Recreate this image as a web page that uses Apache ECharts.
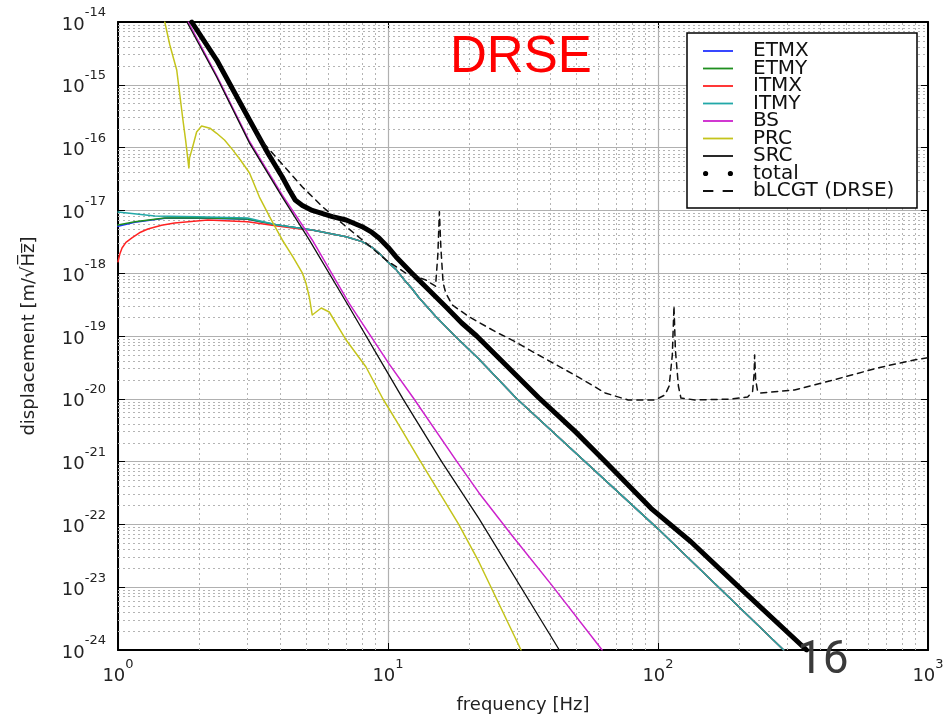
<!DOCTYPE html>
<html>
<head>
<meta charset="utf-8">
<script src="https://cdn.jsdelivr.net/npm/echarts@6/dist/echarts.min.js"></script>
<style>
  html, body { margin: 0; padding: 0; background: #fff; }
  #chart { width: 951px; height: 717px; }
</style>
</head>
<body>
<div id="chart"></div>
<script>
// values: [frequency Hz, displacement m/rtHz]
var etmxData = [[1, 5.6e-18], [1.155, 6.5e-18], [1.49, 7.5e-18], [1.97, 7.6e-18], [3.02, 7.25e-18], [3.89, 5.85e-18]];
var etmyData = [[1, 5.85e-18], [1.155, 6.61e-18], [1.49, 7.57e-18], [1.97, 7.66e-18], [3.02, 7.29e-18], [3.89, 5.85e-18]];
var itmxData = [[1, 1.52e-18], [1.015, 2.0e-18], [1.035, 2.52e-18], [1.07, 3.1e-18], [1.126, 3.64e-18],
  [1.2, 4.4e-18], [1.29, 5.06e-18], [1.45, 5.8e-18], [1.62, 6.3e-18], [2.15, 7.03e-18], [3.02, 6.61e-18],
  [3.89, 5.65e-18], [4.82, 5.0e-18]];
var itmyData = [[1, 9.44e-18], [1.37, 8.15e-18], [1.97, 7.94e-18], [3.02, 7.57e-18], [3.89, 5.85e-18]];
// all four test masses coincide above ~5 Hz
var massTail = [[5.24, 4.88e-18], [7.0, 3.81e-18], [8.02, 3.18e-18], [8.7, 2.6e-18], [9.26, 2.1e-18],
  [10.0, 1.5e-18], [10.7, 1.15e-18], [11.5, 7.8e-19], [12.26, 5.7e-19], [13.0, 4.1e-19], [15.0, 2.06e-19],
  [17.7, 1.0e-19], [21.7, 4.3e-20], [30, 1.0e-20], [100, 8.5e-23], [292, 1.0e-24]];
var bsData = [[1.82, 1.0e-14], [2.32, 1.4e-15], [3.07, 1.25e-16], [4.06, 1.75e-17], [5.24, 3.38e-18],
  [7.18, 3.3e-19], [10.09, 3.6e-20], [12.47, 1.0e-20], [18.0, 1.0e-21], [21.7, 3.2e-22], [28.7, 6.8e-23],
  [40, 1.14e-23], [62.1, 1.0e-24]];
var prcData = [[1.49, 1.0e-14], [1.556, 4.3e-15], [1.65, 1.72e-15], [1.74, 2.75e-16], [1.78, 1.32e-16],
  [1.83, 4.73e-17], [1.84, 6.8e-17], [1.89, 1.02e-16], [1.955, 1.77e-16], [2.04, 2.21e-16], [2.19, 2.04e-16],
  [2.32, 1.69e-16], [2.48, 1.32e-16], [2.66, 9.2e-17], [2.84, 6.35e-17], [3.07, 3.94e-17], [3.34, 1.63e-17],
  [3.7, 7.0e-18], [4.06, 3.38e-18], [4.45, 1.8e-18], [4.82, 1.0e-18], [4.97, 6.9e-19], [5.11, 4.18e-19],
  [5.24, 2.16e-19], [5.66, 2.79e-19], [6.06, 2.41e-19], [7.0, 8.63e-20], [8.29, 3.21e-20], [9.58, 9.93e-21],
  [10.7, 4.59e-21], [13.2, 1.0e-21], [18.28, 1.0e-22], [21.67, 2.57e-23], [31.1, 1.0e-24]];
var srcData = [[1.80, 1.0e-14], [2.32, 1.33e-15], [3.07, 1.18e-16], [4.06, 1.63e-17], [5.11, 3.4e-18],
  [7.18, 2.9e-19], [9.5, 3.7e-20], [11.36, 1.0e-20], [15.8, 1.0e-21], [21.7, 1.25e-22], [43.1, 1.0e-24]];
var totalData = [[1.875, 1.0e-14], [2.32, 2.48e-15], [3.07, 2.75e-16], [3.6, 8.0e-17], [4.06, 3.4e-17],
  [4.31, 2.11e-17], [4.53, 1.47e-17], [4.82, 1.2e-17], [5.24, 1.0e-17], [6.22, 7.98e-18], [7.0, 7.03e-18],
  [8.02, 5.5e-18], [8.7, 4.5e-18], [9.26, 3.64e-18], [10.0, 2.6e-18], [10.7, 1.83e-18], [12.26, 1.0e-18],
  [14.17, 5.4e-19], [16.37, 2.93e-19], [18.75, 1.61e-19], [21.3, 1.0e-19], [36.1, 1.05e-20], [49.4, 3.0e-21],
  [63.7, 1.0e-21], [94.2, 1.8e-22], [132.4, 5.3e-23], [197.3, 1.05e-23], [355, 1.0e-24]];
var blcgtData = [[3.26, 1.59e-16], [3.73, 8.2e-17], [4.82, 2.36e-17], [5.71, 1.15e-17], [7.0, 5.5e-18],
  [8.29, 3.03e-18], [9.83, 1.62e-18], [11.65, 1.0e-18], [13.81, 7.8e-19], [15.0, 6.2e-19], [15.3, 2.0e-18],
  [15.5, 9.5e-18], [15.7, 2.5e-18], [16.0, 7.0e-19], [16.37, 4.84e-19], [17.3, 3.12e-19], [19.9, 2.04e-19],
  [25.0, 1.17e-19], [29.6, 8.1e-20], [34.9, 5.4e-20], [50.7, 2.22e-20], [63.7, 1.24e-20], [77.5, 9.57e-21],
  [97.5, 9.6e-21], [106.1, 1.15e-20], [110, 1.6e-20], [113, 5.0e-20], [114.6, 3.0e-19], [116, 6.0e-20],
  [119, 1.6e-20], [121.6, 1.03e-20], [136.9, 9.6e-21], [186, 9.9e-21], [214.8, 1.07e-20], [224, 1.3e-20],
  [227, 2.5e-20], [228, 5.0e-20], [230, 2.0e-20], [234, 1.3e-20], [239.9, 1.24e-20], [320.3, 1.38e-20],
  [489.8, 2.22e-20], [648.5, 3.09e-20], [888, 4.15e-20], [1000, 4.5e-20]];

var seriesNames = ['ETMX', 'ETMY', 'ITMX', 'ITMY', 'BS', 'PRC', 'SRC', 'total', 'bLCGT (DRSE)'];
var seriesColors = ['#2233ff', '#1f8f1f', '#ff2222', '#22a8a8', '#cc22cc', '#c4c41c', '#111111', '#000000', '#111111'];

var xRange = [1, 1000];
var yRange = [1e-24, 1e-14];
var yExpRange = [-24, -14];   // decade exponents, used for the tick labels and minor grid

// minor (dotted) grid lines at 2..9 x 10^k; y ones go on the exponent axis
var minorX = [];
var minorY = [];
var k, m;
for (k = 0; k < 3; k++) for (m = 2; m < 10; m++) minorX.push({ xAxis: m * Math.pow(10, k) });
for (k = yExpRange[0]; k < yExpRange[1]; k++) for (m = 2; m < 10; m++) minorY.push({ yAxis: k + Math.log10(m) });

var FONT = 'DejaVu Sans';
function supLabel(e) {
  return '{b|10}{s|' + e + '}';
}
var tickRich = {
  b: { fontSize: 18, fontFamily: FONT, color: '#222', padding: [6, 0, 0, 0] },
  s: { fontSize: 13, fontFamily: FONT, color: '#222', padding: [0, 0, 18, 0] }
};

var LINE_ICON = 'path://M0,4.1h30v1.8h-30z';
var DASH_ICON = 'path://M0,4.1h10v1.8h-10zM19,4.1h10v1.8h-10z';
var DOTS_ICON = 'path://M0,5a2.6,2.6 0 1,0 5.2,0a2.6,2.6 0 1,0 -5.2,0zM24.8,5a2.6,2.6 0 1,0 5.2,0a2.6,2.6 0 1,0 -5.2,0z';

function lineSeries(i, data, width, dash) {
  return {
    name: seriesNames[i], type: 'line', data: data, xAxisIndex: 0, yAxisIndex: 0, z: 3,
    showSymbol: false, symbol: 'none', clip: true, smooth: false,
    lineStyle: { color: seriesColors[i], width: width, type: dash || 'solid', join: 'round', cap: 'round' },
    itemStyle: { color: seriesColors[i] }
  };
}

var tickStyle = { show: true, inside: true, length: 7, lineStyle: { color: '#000', width: 1 } };
var borderLine = { show: true, onZero: false, lineStyle: { color: '#000', width: 2 } };

var chart = echarts.init(document.getElementById('chart'), null, { renderer: 'canvas' });
chart.setOption({
  animation: false,
  backgroundColor: '#fff',
  grid: {
    left: 118, right: 23, top: 22, bottom: 67, containLabel: false, outerBoundsMode: 'none',
    show: false
  },
  xAxis: [{
    type: 'log', logBase: 10, min: xRange[0], max: xRange[1], splitNumber: 3,
    name: 'frequency [Hz]', nameLocation: 'middle', nameGap: 46, nameMoveOverlap: false,
    nameTextStyle: { fontFamily: FONT, fontSize: 18, color: '#222' },
    axisLine: borderLine, axisTick: tickStyle,
    axisLabel: {
      formatter: function (v) { return supLabel(Math.round(Math.log10(v))); },
      rich: tickRich, margin: 8, showMinLabel: true, showMaxLabel: true
    },
    splitLine: { show: true, lineStyle: { color: '#b0b0b0', width: 1.2 } }
  }, {
    type: 'log', logBase: 10, min: xRange[0], max: xRange[1], splitNumber: 3, position: 'top',
    axisLine: borderLine, axisTick: tickStyle,
    axisLabel: { show: false }, splitLine: { show: false }
  }],
  yAxis: [{
    type: 'log', logBase: 10, min: yRange[0], max: yRange[1], splitNumber: 10, position: 'left',
    name: 'displacement [m/\u221AH\u0305z\u0305]', nameLocation: 'middle', nameGap: 80, nameMoveOverlap: false,
    nameTextStyle: { fontFamily: FONT, fontSize: 18, color: '#222' },
    axisLine: borderLine, axisTick: tickStyle,
    axisLabel: { show: false },
    splitLine: { show: true, lineStyle: { color: '#b0b0b0', width: 1.2 } }
  }, {
    type: 'log', logBase: 10, min: yRange[0], max: yRange[1], splitNumber: 10, position: 'right',
    axisLine: borderLine, axisTick: tickStyle,
    axisLabel: { show: false }, splitLine: { show: false }
  }, {
    type: 'value', min: yExpRange[0], max: yExpRange[1], interval: 1, position: 'left',
    axisLine: { show: false }, axisTick: { show: false }, splitLine: { show: false },
    axisLabel: { formatter: supLabel, rich: tickRich, margin: 12, showMinLabel: true, showMaxLabel: true }
  }],
  legend: {
    orient: 'vertical', left: 703, top: 41, padding: 0, itemGap: -2.5,
    itemWidth: 30, itemHeight: 10, z: 5,
    textStyle: { fontFamily: FONT, fontSize: 20, color: '#111', padding: [0, 0, 0, 15] },
    data: seriesNames.map(function (n) {
      var icon = LINE_ICON;
      if (n === 'total') icon = DOTS_ICON;
      if (n === 'bLCGT (DRSE)') icon = DASH_ICON;
      return { name: n, icon: icon };
    })
  },
  graphic: [
    {
      type: 'rect', z: 4, silent: true,
      shape: { x: 687, y: 33, width: 230, height: 175 },
      style: { fill: '#fff', stroke: '#000', lineWidth: 1.5 }
    },
    {
      type: 'text', z: 6, left: 450, top: 32,
      style: { text: 'DRSE', fill: '#ff0000', font: '51px "Liberation Sans"' }
    },
    {
      type: 'text', z: 6, left: 797, top: 638,
      style: { text: '16', fill: '#3a3a3a', font: '46px Roboto' }
    }
  ],
  series: [
    {
      name: 'minor grid', type: 'line', xAxisIndex: 0, yAxisIndex: 2, z: 1,
      data: [[1, -24]], symbol: 'none', showSymbol: false, silent: true,
      lineStyle: { opacity: 0 },
      markLine: {
        silent: true, symbol: 'none', animation: false, z: 1,
        label: { show: false },
        lineStyle: { color: '#b4b4b4', width: 1, type: [2, 3] },
        data: minorX.concat(minorY)
      }
    },
    lineSeries(0, etmxData.concat(massTail), 1.5),
    lineSeries(1, etmyData.concat(massTail), 1.5),
    lineSeries(2, itmxData.concat(massTail), 1.5),
    lineSeries(3, itmyData.concat(massTail), 1.5),
    lineSeries(4, bsData, 1.5),
    lineSeries(5, prcData, 1.5),
    lineSeries(6, srcData, 1.3),
    lineSeries(7, totalData, 5),
    lineSeries(8, blcgtData, 1.5, [6, 5])
  ]
});
</script>
</body>
</html>
